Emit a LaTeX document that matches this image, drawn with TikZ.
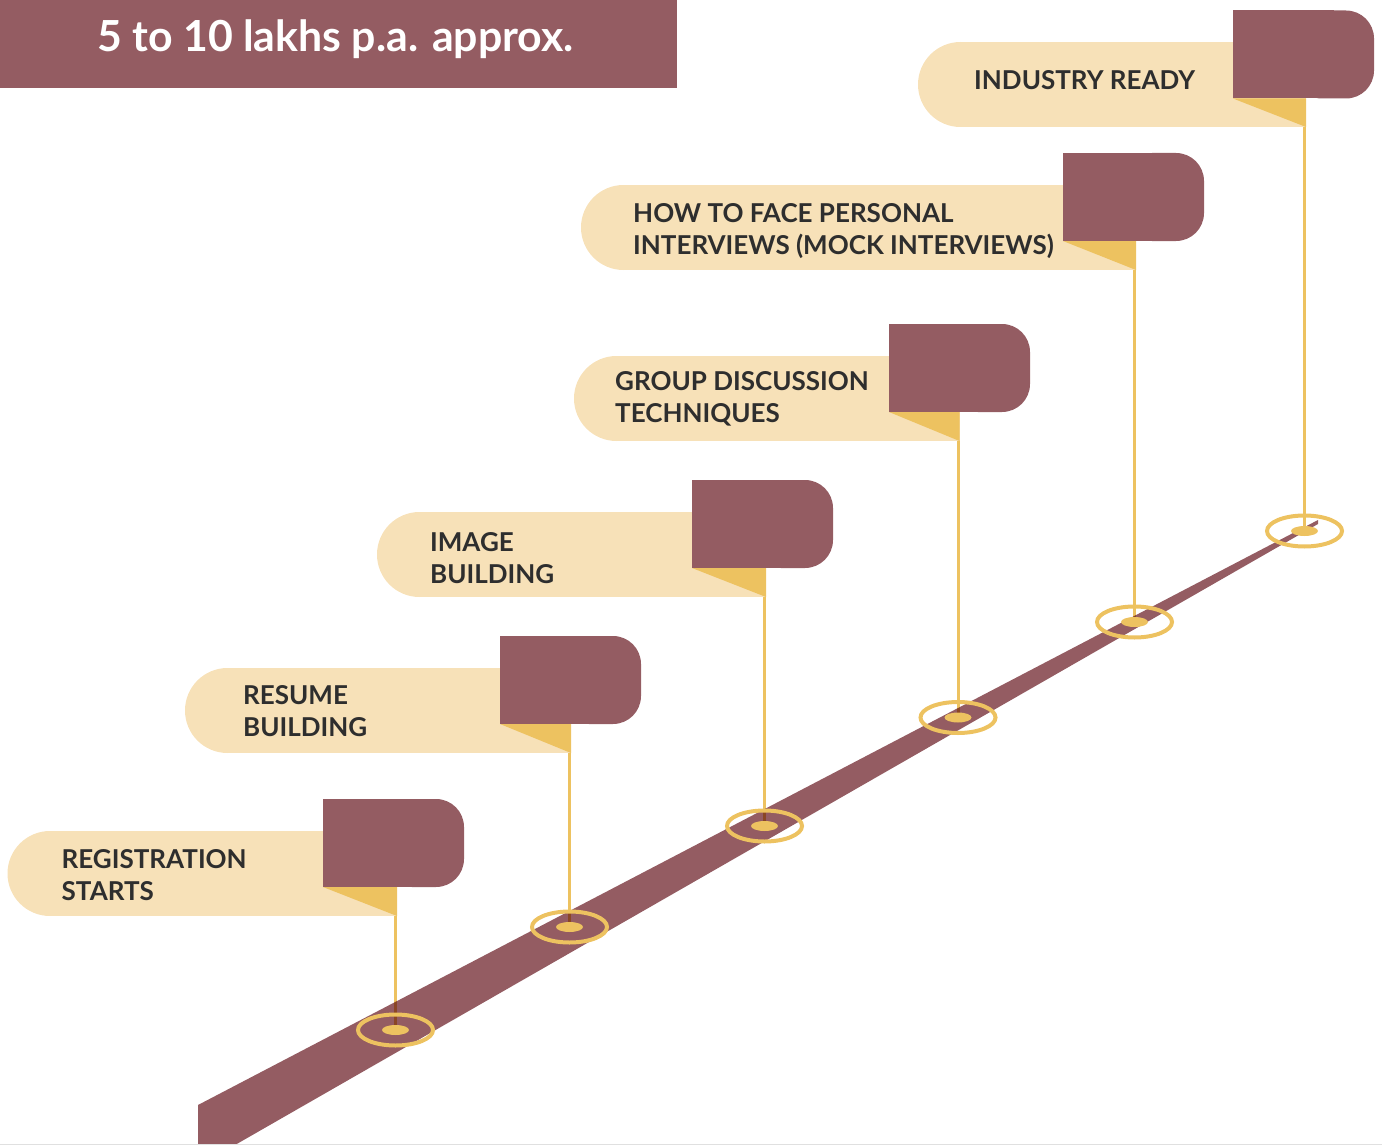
\documentclass[tikz,border=0pt]{standalone}
\usepackage{fontspec}
\setmainfont{Lato}
\usetikzlibrary{shapes.geometric}
\pgfdeclarelayer{roadlayer}
\pgfdeclarelayer{polelayer}
\pgfsetlayers{roadlayer,polelayer,main}
\definecolor{maroon}{HTML}{945C62}
\definecolor{cream}{HTML}{F7E1B8}
\definecolor{gold}{HTML}{EDC260}
\definecolor{poleonroad}{HTML}{8A4625}
\definecolor{ink}{HTML}{2E2E2E}
\tikzset{
  ring/.style={ellipse, draw=gold, line width=4pt, minimum width=75pt, minimum height=31pt, inner sep=0pt},
  dotmark/.style={ellipse, fill=gold, minimum width=27pt, minimum height=10pt, inner sep=0pt},
  pole/.style={draw=gold, line width=3pt},
  poleshade/.style={draw=poleonroad, line width=3pt},
  flagtext/.style={anchor=north west, inner sep=0pt, align=left, text=ink, font=\fontsize{26}{32}\selectfont\bfseries},
  titletext/.style={anchor=base west, inner sep=0pt, text=white, font=\fontsize{42.8}{48}\selectfont\bfseries},
}
% #1 id, #2 pole x, #3 cream top, #4 cream left, #5 maroon left, #6 maroon right, #7 maroon top, #8 text, #9 text position
\newcommand{\flagbox}[9]{%
  \pgfmathsetmacro\flR{#2+1.5}%
  \pgfmathsetmacro\flB{#3+85}%
  \pgfmathsetmacro\flMB{#7+88}%
  \pgfmathsetmacro\flLC{#4+42.5}%
  \pgfmathsetmacro\flMC{#3+42.5}%
  \fill[cream] (\flLC,\flMC) circle[radius=42.5];
  \fill[cream] (\flLC,#3) rectangle (\flR,\flB);
  \fill[maroon] (#5,#7) rectangle ({#6-40},\flMB);
  \fill[maroon,rounded corners=28pt] ({#6-80},#7) rectangle (#6,\flMB);
  \fill[gold] (#5,\flMB) -- (\flR,\flMB) -- (\flR,\flB) -- cycle;
  \coordinate (tip#1) at (#2,\flB);
  \node[flagtext] (label#1) at (#9) {#8};
}
\begin{document}
\begin{tikzpicture}[x=1pt,y=-1pt]
\useasboundingbox (0,0) rectangle (1382,1145);
\begin{pgfonlayer}{roadlayer}
  \fill[maroon] (198,1105) -- (1318,520) -- (1318,524) -- (235,1145) -- (198,1145) -- cycle;
  \fill[maroon] (0,0) rectangle (677,88);
\end{pgfonlayer}
\node[titletext] (title) at (97,52) {5 to 10 lakhs p.a. approx.};

\flagbox{1}{395.5}{831}{7.5}{323}{464}{799}{REGISTRATION\\STARTS}{61.5,849}
\flagbox{2}{569.5}{668}{185}{500}{641}{636}{RESUME\\BUILDING}{243,685}
\flagbox{3}{764.5}{512}{377}{692}{833}{480}{IMAGE\\BUILDING}{430,532}
\flagbox{4}{958}{356}{574}{889}{1030}{324}{GROUP DISCUSSION\\TECHNIQUES}{615,371}
\flagbox{5}{1134.5}{185}{581}{1063}{1204}{153}{HOW TO FACE PERSONAL\\INTERVIEWS (MOCK INTERVIEWS)}{633,203}
\flagbox{6}{1304.5}{42}{918}{1233}{1374}{10.5}{INDUSTRY READY}{974,70}

\node[ring] (ring1) at (395.5,1030) {};
\node[ring] (ring2) at (569.5,927) {};
\node[ring] (ring3) at (764.5,826) {};
\node[ring] (ring4) at (958,717.5) {};
\node[ring] (ring5) at (1134.5,622) {};
\node[ring] (ring6) at (1304.5,531) {};
\foreach \i in {1,...,6} \node[dotmark] (dot\i) at (ring\i.center) {};

\begin{pgfonlayer}{polelayer}
  \foreach \i in {1,...,6} \draw[pole] (tip\i) -- (dot\i.center);
  \begin{scope}
    \clip (198,1105) -- (1318,520) -- (1318,524) -- (235,1145) -- (198,1145) -- cycle;
    \foreach \i in {1,...,6} \draw[poleshade] (tip\i) -- (dot\i.center);
  \end{scope}
\end{pgfonlayer}
\draw[line width=1.5pt, black!12] (0,1144.25) -- (1382,1144.25);
\end{tikzpicture}
\end{document}
